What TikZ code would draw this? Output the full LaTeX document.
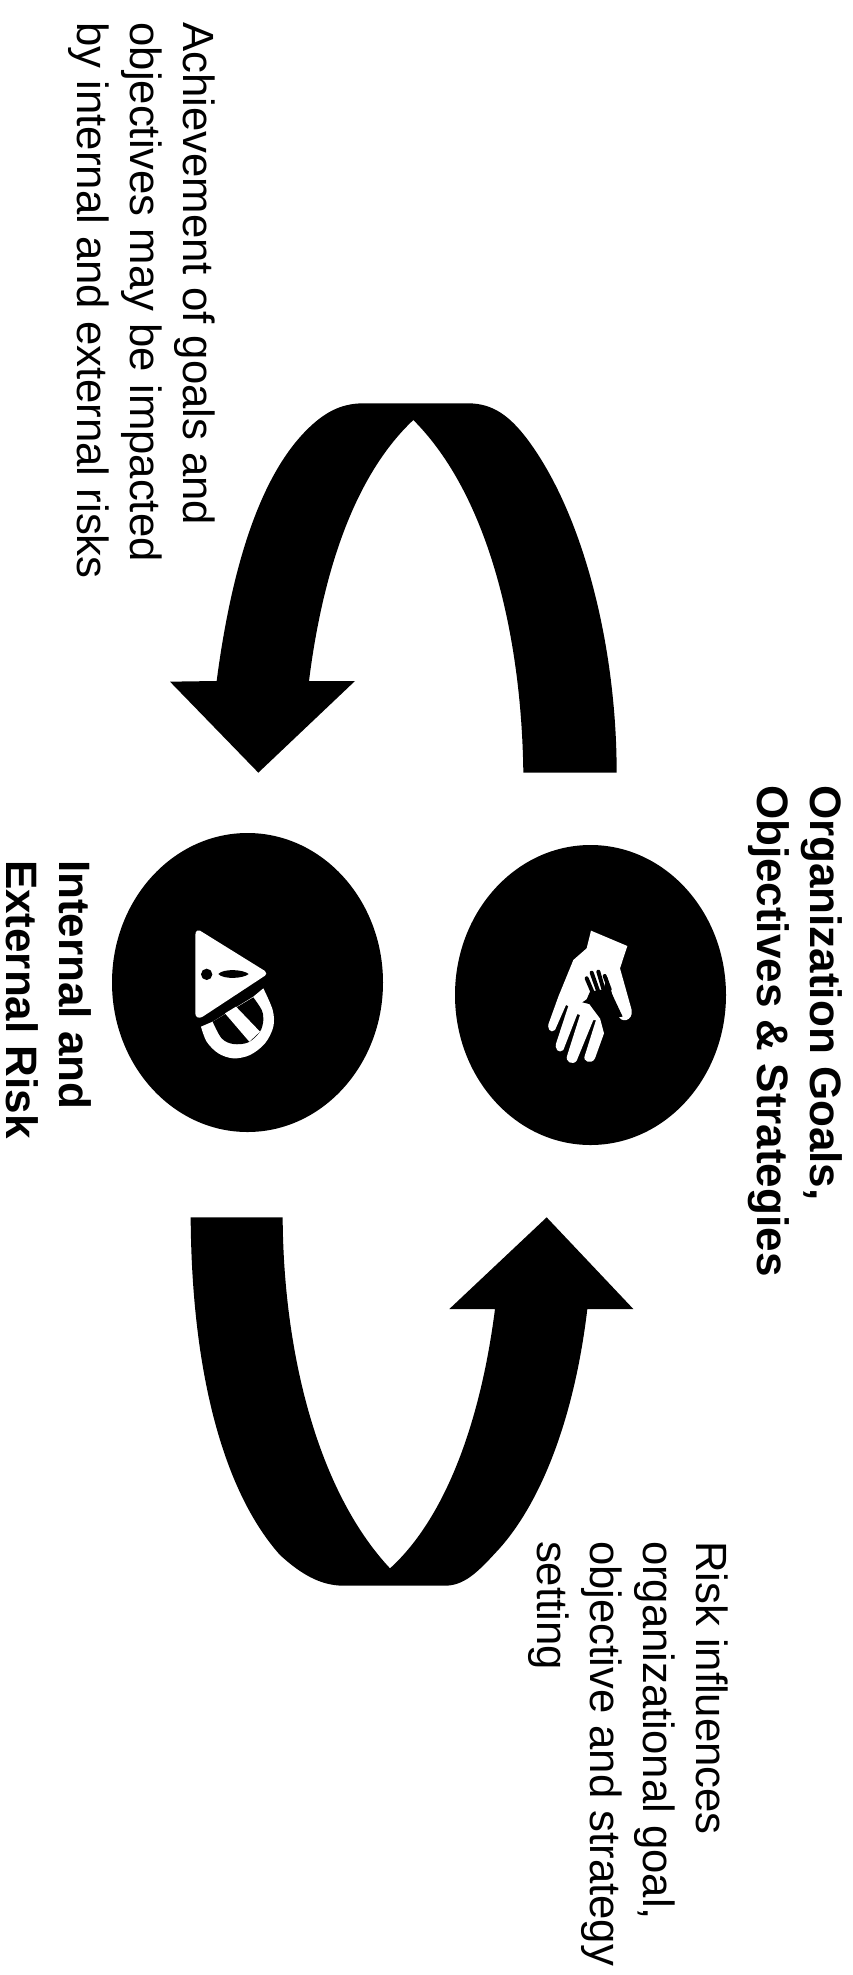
\documentclass[tikz,border=0pt]{standalone}
\usepackage{fontspec}
\setmainfont{Liberation Sans}
\usetikzlibrary{shapes.geometric}
\tikzset{
  ink/.style={fill=black,draw=none},
  blank/.style={fill=white,draw=none},
  disc/.style={ellipse,fill=black,inner sep=0pt,outer sep=0pt},
  caption/.style={rotate=-90,anchor=north west,align=left,font=\fontsize{43.7}{53}\selectfont,inner sep=0pt,outer sep=0pt},
  captionb/.style={caption,font=\fontsize{44}{53}\bfseries\selectfont},
  curve/.style={smooth,tension=0.55},
  zoomed/.style={x=0.33333pt,y=-0.33333pt}
}
\begin{document}
\begin{tikzpicture}[x=1pt,y=-1pt]
\useasboundingbox (0,0) rectangle (852,1975);
% top arrow
\begin{scope}[shift={(160,380)},zoomed]
\fill[ink] (1370,1178) -- (1090,1178)
  .. controls (1085,780) and (990,350) .. (760,120)
  .. controls (590,280) and (490,560) .. (447,903)
  -- (585,903) -- (295,1178) -- (30,905) -- (170,903)
  .. controls (215,560) and (300,290) .. (440,150)
  .. controls (490,100) and (540,70) .. (610,70)
  -- (925,70)
  .. controls (1000,70) and (1050,110) .. (1100,175)
  .. controls (1270,400) and (1370,800) .. (1370,1178)
  -- cycle;
\end{scope}
% bottom arrow
\begin{scope}[shift={(160,1200)},zoomed]
\fill[ink] (92,52) -- (368,52)
  .. controls (370,450) and (470,870) .. (690,1105)
  .. controls (850,960) and (960,680) .. (1005,327)
  -- (868,327) -- (1160,52) -- (1420,327) -- (1282,327)
  .. controls (1240,680) and (1130,930) .. (1005,1060)
  .. controls (950,1120) and (910,1157) .. (855,1157)
  -- (550,1157)
  .. controls (480,1157) and (420,1120) .. (360,1065)
  .. controls (195,880) and (95,530) .. (92,52)
  -- cycle;
\end{scope}
% discs
\node[disc,minimum width=271pt,minimum height=300pt] (goals) at (590.5,995) {};
\node[disc,minimum width=271pt,minimum height=299pt] (risk) at (247.5,982.5) {};
% hands icon
\begin{scope}[shift={(430,820)},zoomed]
\fill[blank] (483,332) -- (592,378) -- (570,445) -- (605,570)
  .. controls (610,605) and (570,610) .. (565,585)
  -- (530,465) -- (510,560) -- (510,595) -- (522,640) -- (495,715)
  .. controls (485,735) and (455,725) .. (465,705)
  -- (498,600) -- (490,600) -- (440,722)
  .. controls (428,738) and (403,725) .. (412,705)
  -- (450,585) -- (442,582) -- (400,690)
  .. controls (388,702) and (370,688) .. (380,665)
  -- (415,558) -- (408,555) -- (375,630)
  .. controls (362,642) and (348,625) .. (358,605)
  -- (385,530) -- (430,420) -- (470,385) -- cycle;
\fill[ink] (480,515) -- (538,505) -- (578,590) -- (510,595) -- (478,552) -- (457,547) -- (470,538) -- cycle;
\foreach \a/\b/\c/\d in {470/475/490/522, 485/458/504/512, 505/455/521/510, 524/468/539/508}
  \draw[black,line width=4pt,line cap=round] (\a,\b) -- (\c,\d);
\end{scope}
% warning icon
\begin{scope}[shift={(90,810)},zoomed]
\fill[blank] (330,362) -- (525,483) .. controls (530,488) and (530,494) .. (525,497)
  -- (338,620) .. controls (325,628) and (316,620) .. (316,610)
  -- (316,375) .. controls (316,362) and (325,358) .. (330,362) -- cycle;
\fill[ink] (350,493) circle[radius=17];
\fill[ink] (385,492) .. controls (400,475) and (460,478) .. (476,492) .. controls (460,506) and (400,509) .. (385,492) -- cycle;
\fill[blank] plot[curve] coordinates {(333,650) (350,695) (385,730) (430,745) (480,735) (525,700) (550,650) (548,600) (520,535)} -- (490,560) -- (368,635) -- cycle;
\fill[ink] plot[curve] coordinates {(490,562) (515,600) (520,630) (510,665) (475,697) (430,702) (395,685) (368,635)} -- cycle;
\fill[blank] (405,610) -- (438,590) -- (510,665) -- (478,695) -- cycle;
\end{scope}
% captions
\node[caption] (c1) at (215,22.5) {Achievement of goals and\\objectives may be impacted\\by internal and external risks};
\node[caption] (c2) at (728,1541) {Risk influences\\organizational goal,\\objective and strategy\\setting};
\node[captionb] (c3) at (842,785) {Organization Goals,\\Objectives \& Strategies};
\node[captionb] (c4) at (91,860) {Internal and\\External Risk};
\end{tikzpicture}
\end{document}
